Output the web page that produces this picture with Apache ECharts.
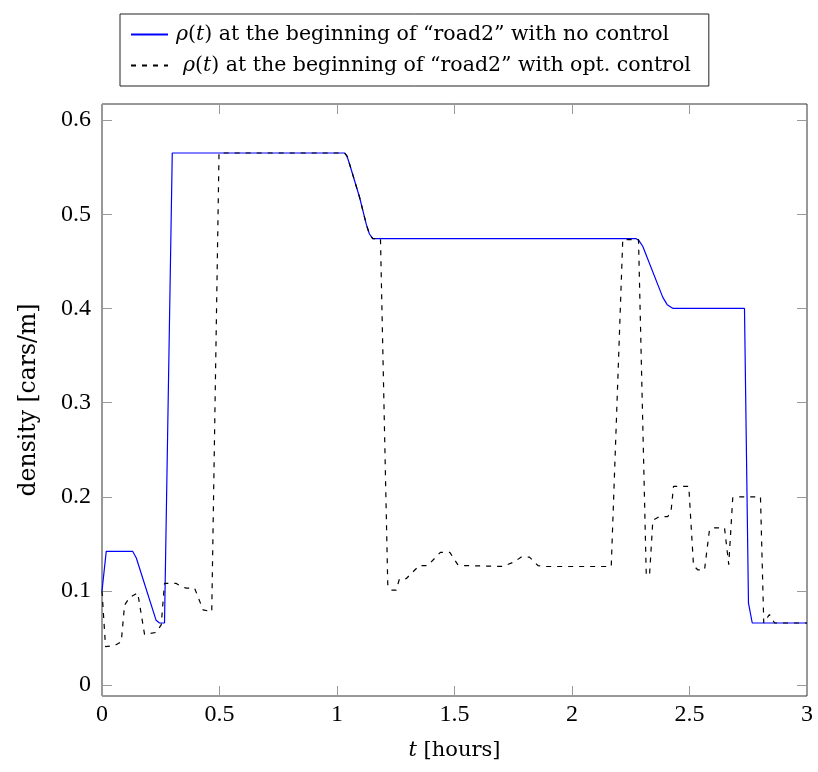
<!DOCTYPE html>
<html><head><meta charset="utf-8">
<script src="https://cdn.jsdelivr.net/npm/echarts@6/dist/echarts.min.js"></script>
<style>html,body{margin:0;padding:0;background:#fff}#c{width:818px;height:772px}</style>
</head><body><div id="c"></div>
<script>
// t [hours] and density [cars/m] for the uncontrolled case
const tNoControl = [0, 0.018, 0.131, 0.146, 0.23, 0.245, 0.266, 0.299, 1.032, 1.042, 1.055, 1.096, 1.125, 1.138, 1.152, 2.273, 2.285, 2.301, 2.386, 2.405, 2.43, 2.734, 2.751, 2.767, 3];
const rhoNoControl = [0.1, 0.142, 0.142, 0.135, 0.069, 0.066, 0.066, 0.565, 0.565, 0.562, 0.552, 0.518, 0.489, 0.479, 0.474, 0.474, 0.472, 0.466, 0.412, 0.404, 0.4, 0.4, 0.087, 0.066, 0.066];
// t [hours] and density [cars/m] for the optimal control case
const tOptControl = [0, 0.015, 0.053, 0.082, 0.096, 0.117, 0.152, 0.181, 0.23, 0.252, 0.266, 0.316, 0.335, 0.358, 0.394, 0.43, 0.467, 0.498, 1.032, 1.042, 1.055, 1.096, 1.125, 1.138, 1.152, 1.185, 1.216, 1.231, 1.252, 1.266, 1.294, 1.35, 1.386, 1.44, 1.48, 1.514, 1.53, 1.706, 1.755, 1.784, 1.819, 1.855, 1.89, 2.167, 2.216, 2.283, 2.316, 2.33, 2.344, 2.372, 2.408, 2.422, 2.432, 2.497, 2.517, 2.535, 2.564, 2.585, 2.606, 2.649, 2.667, 2.684, 2.713, 2.802, 2.816, 2.84, 2.862, 3];
const rhoOptControl = [0.1, 0.041, 0.042, 0.046, 0.085, 0.093, 0.098, 0.054, 0.056, 0.064, 0.108, 0.108, 0.105, 0.103, 0.103, 0.08, 0.078, 0.565, 0.565, 0.562, 0.552, 0.518, 0.489, 0.479, 0.474, 0.474, 0.107, 0.101, 0.101, 0.113, 0.113, 0.127, 0.127, 0.141, 0.141, 0.128, 0.127, 0.126, 0.131, 0.136, 0.136, 0.127, 0.126, 0.126, 0.473, 0.473, 0.117, 0.117, 0.175, 0.179, 0.179, 0.186, 0.211, 0.211, 0.127, 0.1225, 0.1225, 0.165, 0.167, 0.167, 0.128, 0.199, 0.2, 0.2, 0.066, 0.075, 0.066, 0.066];
const xTicks = [0, 0.5, 1, 1.5, 2, 2.5, 3];
const yTicks = [0, 0.1, 0.2, 0.3, 0.4, 0.5, 0.6];
const legendNames = ['no control', 'opt. control'];

const zip = (a, b) => a.map((v, i) => [v, b[i]]);
const numFont = 'Liberation Serif';
const txtFont = 'DejaVu Serif';
const tickStyle = {show: true, inside: true, length: 10, lineStyle: {color: '#9a9a9a', width: 1}};
const yFmt = v => v === 0 ? '0' : v.toFixed(1);
const xFmt = v => String(v);
const hidden = {
  axisLine: {show: false, onZero: false}, splitLine: {show: false}, axisLabel: {show: false}
};

const chart = echarts.init(document.getElementById('c'), null, {renderer: 'canvas'});
chart.setOption({
  animation: false,
  backgroundColor: '#fff',
  textStyle: {fontFamily: txtFont},
  grid: {left: 102, right: 11, top: 104, bottom: 76, show: true, borderColor: '#333', borderWidth: 1, containLabel: false},
  legend: {
    left: 120, top: 14, orient: 'vertical',
    borderColor: '#222', borderWidth: 1, padding: [10, 18, 10, 10],
    itemWidth: 37, itemHeight: 14, itemGap: 10,
    itemStyle: {color: 'transparent', borderWidth: 0},
    textStyle: {fontFamily: txtFont, fontSize: 20.5, color: '#000', lineHeight: 20,
      rich: {i: {fontFamily: txtFont, fontStyle: 'italic', fontSize: 20.5, color: '#000', lineHeight: 20},
             g: {width: 3}, h: {width: 10}}},
    formatter: name => (name === legendNames[0] ? '{g| }' : '{h| }') + '{i|ρ}({i|t}) at the beginning of “road2” with ' + name,
    data: legendNames
  },
  xAxis: [
    {type: 'value', min: 0, max: 3, position: 'bottom',
     axisLine: {show: false, onZero: false}, splitLine: {show: false},
     axisTick: Object.assign({customValues: xTicks}, tickStyle),
     axisLabel: {customValues: xTicks, formatter: xFmt, fontFamily: numFont, fontSize: 24, color: '#000', margin: 7},
     name: '{i|t} [hours]', nameLocation: 'middle', nameGap: 44,
     nameTextStyle: {fontFamily: txtFont, fontSize: 21, color: '#000',
       rich: {i: {fontFamily: txtFont, fontStyle: 'italic', fontSize: 21, color: '#000'}}}},
    Object.assign({type: 'value', min: 0, max: 3, position: 'top',
     axisTick: Object.assign({customValues: xTicks}, tickStyle)}, hidden)
  ],
  yAxis: [
    {type: 'value', min: -0.0115, max: 0.617, position: 'left',
     axisLine: {show: false, onZero: false}, splitLine: {show: false},
     axisTick: Object.assign({customValues: yTicks}, tickStyle),
     axisLabel: {customValues: yTicks, formatter: yFmt, fontFamily: numFont, fontSize: 24, color: '#000', margin: 11},
     name: 'density [cars/m]', nameLocation: 'middle', nameGap: 61, nameRotate: 90,
     nameTextStyle: {fontFamily: txtFont, fontSize: 23.5, color: '#000'}},
    Object.assign({type: 'value', min: -0.0115, max: 0.617, position: 'right',
     axisTick: Object.assign({customValues: yTicks}, tickStyle)}, hidden)
  ],
  series: [
    {name: legendNames[0], type: 'line', data: zip(tNoControl, rhoNoControl),
     symbol: 'none', lineStyle: {color: '#0000ff', width: 1.2}, itemStyle: {color: '#0000ff'}, z: 2},
    {name: legendNames[1], type: 'line', data: zip(tOptControl, rhoOptControl),
     symbol: 'none', lineStyle: {color: '#000', width: 1.2, type: [5, 6]}, itemStyle: {color: '#000'}, z: 3}
  ]
});
</script></body></html>
